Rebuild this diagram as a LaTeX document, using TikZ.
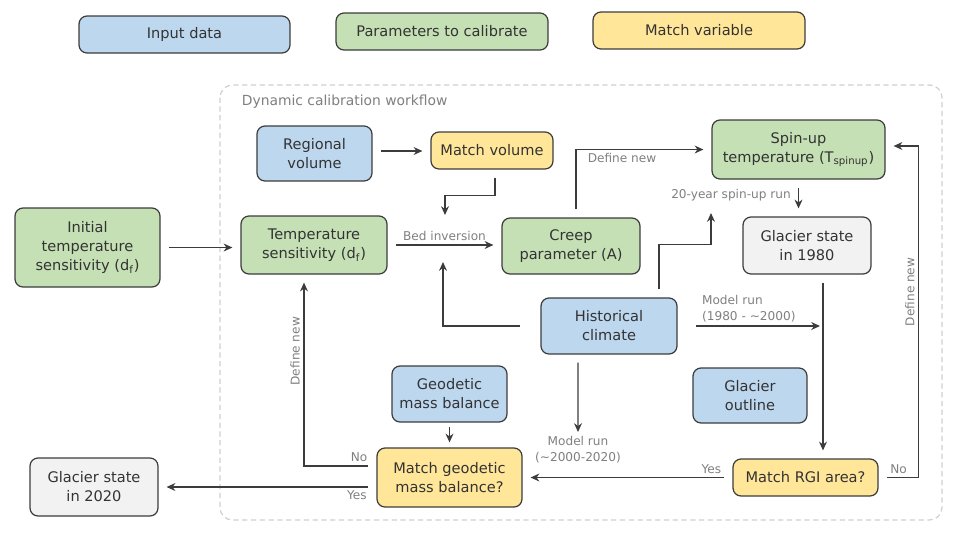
\documentclass[tikz,border=0pt]{standalone}
\usepackage{fontspec}
\setmainfont{DejaVu Sans}
\usetikzlibrary{positioning,calc,arrows.meta}
\definecolor{inputblue}{HTML}{BDD7EE}
\definecolor{paramgreen}{HTML}{C5E0B4}
\definecolor{matchyellow}{HTML}{FFE699}
\definecolor{stategrey}{HTML}{F2F2F2}
\definecolor{edgegrey}{HTML}{3C3C3C}
\definecolor{labelgrey}{HTML}{7F7F7F}
\definecolor{framegrey}{HTML}{D0D0D0}

\begin{document}
\begin{tikzpicture}[x=0.02cm, y=-0.02cm,
    box/.style={rectangle, rounded corners=0.16cm, draw=edgegrey, line width=0.7pt, align=center, text=black!80, font=\fontsize{8.3}{10.8}\selectfont, inner sep=2pt},
    inputbox/.style={box, fill=inputblue},
    parambox/.style={box, fill=paramgreen},
    matchbox/.style={box, fill=matchyellow},
    statebox/.style={box, fill=stategrey},
    link/.style={draw=edgegrey, line width=0.7pt, -{Stealth[length=5pt,width=4.5pt]}, shorten <=0.16cm, shorten >=0.16cm},
    lbl/.style={text=labelgrey, font=\fontsize{6.9}{9}\selectfont, inner sep=2pt}]
       \useasboundingbox (0,0) rectangle (960,542);

       \node [inputbox, minimum width=4.22cm, minimum height=0.74cm]  at (184.5,34.5)  (leginput)  {Input data};
       \node [parambox, minimum width=4.24cm, minimum height=0.74cm]  at (442,31.5)    (legparam)  {Parameters to calibrate};
       \node [matchbox, minimum width=4.24cm, minimum height=0.74cm]  at (699,30.5)    (legmatch)  {Match variable};

       \draw [framegrey, line width=0.7pt, dash pattern=on 3pt off 2pt, rounded corners=0.25cm] (220,85) rectangle (942,520);
       \node [lbl, anchor=west, font=\fontsize{7.9}{9}\selectfont]     at (238,102)     (workflow)  {Dynamic calibration workflow};

       \node [inputbox, minimum width=2.3cm, minimum height=1.1cm]    at (314.5,153.5) (regvol)    {Regional\\volume};
       \node [matchbox, minimum width=2.44cm, minimum height=0.74cm]  at (492,150.5)   (matchvol)  {Match volume};
       \node [parambox, minimum width=3.46cm, minimum height=1.18cm]  at (798.5,149.5) (spinup)    {Spin-up\\temperature (T\textsubscript{spinup})};
       \node [parambox, minimum width=2.9cm, minimum height=1.58cm]   at (87.5,247.5)  (initts)    {Initial\\temperature\\sensitivity (d\textsubscript{f})};
       \node [parambox, minimum width=2.92cm, minimum height=1.16cm]  at (314,245)     (ts)        {Temperature\\sensitivity (d\textsubscript{f})};
       \node [parambox, minimum width=2.76cm, minimum height=1.12cm]  at (571,246)     (creep)     {Creep\\parameter (A)};
       \node [statebox, minimum width=2.56cm, minimum height=1.14cm]  at (807,245.5)   (gsearly)   {Glacier state\\in 1980};
       \node [inputbox, minimum width=2.72cm, minimum height=1.12cm]  at (609,326)     (hist)      {Historical\\climate};
       \node [inputbox, minimum width=2.3cm, minimum height=1.12cm]   at (449.5,394)   (geod)      {Geodetic\\mass balance};
       \node [inputbox, minimum width=2.28cm, minimum height=1.1cm]   at (750,395.5)   (outline)   {Glacier\\outline};
       \node [statebox, minimum width=2.56cm, minimum height=1.16cm]  at (94,487)      (gslate)    {Glacier state\\in 2020};
       \node [matchbox, minimum width=2.9cm, minimum height=1.18cm]   at (449.5,477.5) (matchgeod) {Match geodetic\\mass balance?};
       \node [matchbox, minimum width=2.9cm, minimum height=0.74cm]   at (805.5,477.5) (matchrgi)  {Match RGI area?};

       \coordinate (bedtop)  at (445,215);
       \coordinate (bedbot)  at (443,262);
       \coordinate (spinrun) at (711,213);
       \coordinate (runend)  at (820,328);
       \coordinate (runfoot) at (578,432);

       \draw [link] (initts.east) -- (initts.east -| ts.west);
       \draw [link] ([yshift=0.05cm]regvol.east) -- ([yshift=0.05cm]regvol.east -| matchvol.west);
       \draw [link, shorten >=0pt] ([xshift=0.06cm]matchvol.south) -- ++(0,26) -| (bedtop);
       \draw [link] (ts.east) -- node [lbl, above] {Bed inversion} (ts.east -| creep.west);
       \draw [link, shorten <=0.4cm, shorten >=0pt] (hist.west) -| (bedbot);
       \draw [link] ([xshift=0.1cm]creep.north) |- node [lbl, below, pos=0.67] {Define new} (spinup.west);
       \draw [link, shorten >=0pt] ([xshift=1cm]hist.north) -- ++(0,-53) -| (spinrun) node [lbl, above=0.15cm, xshift=0.4cm] {20-year spin-up run};
       \draw [link] (spinup.south) -- (spinup.south |- gsearly.north);
       \draw [link] ([xshift=0.32cm]gsearly.south) -- ([xshift=0.32cm]gsearly.south |- matchrgi.north);
       \draw [link, shorten <=0.36cm, shorten >=0pt] (hist.east) -- node [lbl, above, align=left] {Model run\\(1980 - \textasciitilde2000)} (hist.east -| runend);
       \draw [link, shorten >=0pt] ([xshift=-0.62cm]hist.south) -- (runfoot) node [lbl, below, align=center] {Model run\\(\textasciitilde2000-2020)};
       \draw [link] (matchrgi.west) -- node [lbl, above, pos=0.1] {Yes} (matchrgi.west -| matchgeod.east);
       \draw [link] (matchrgi.east) -- ++(40,0) node [lbl, above, pos=0.5] {No} |- node [lbl, rotate=90, above, pos=0.28] {Define new} ([yshift=0.07cm]spinup.east);
       \draw [link, shorten <=0.08cm, shorten >=0.1cm] (geod.south) -- (matchgeod.north);
       \draw [link] ([yshift=0.23cm]matchgeod.west) -| node [lbl, above, pos=0.12] {No} node [lbl, rotate=90, above, pos=0.8] {Define new} ([xshift=-0.2cm]ts.south);
       \draw [link] ([yshift=-0.19cm]matchgeod.west) -- node [lbl, below, pos=0.09] {Yes} ([yshift=-0.19cm]matchgeod.west -| gslate.east);
    \end{tikzpicture}
\end{document}
